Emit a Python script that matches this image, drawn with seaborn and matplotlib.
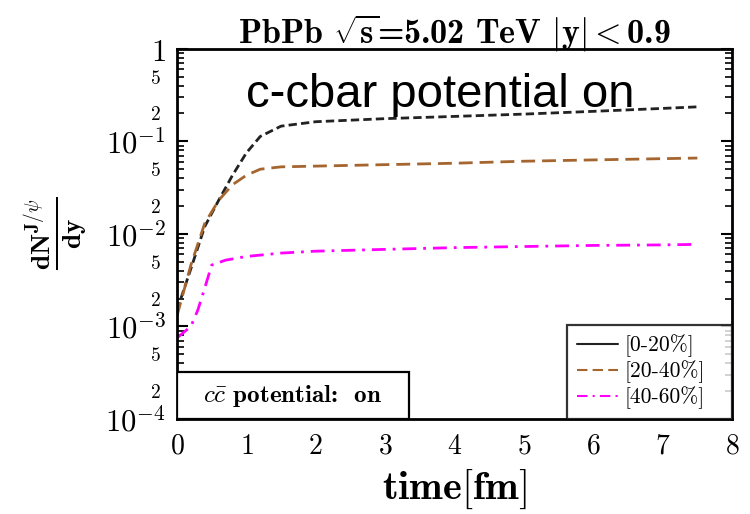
import numpy as np
import pandas as pd
import matplotlib
matplotlib.use("Agg")
import matplotlib.pyplot as plt
import matplotlib.ticker as mticker
from matplotlib.lines import Line2D
from matplotlib.patches import Rectangle
import seaborn as sns

# ---- data ----
t_020 = [0, 0.2, 0.4, 0.6, 0.8, 1.0, 1.2, 1.5, 2.0, 3.0, 4.0, 5.0, 6.0, 7.0, 7.5]
y_020 = [1.5e-3, 4.2e-3, 0.012, 0.023, 0.043, 0.075, 0.113, 0.146, 0.163, 0.176,
         0.186, 0.197, 0.211, 0.227, 0.236]
t_2040 = [0, 0.2, 0.4, 0.6, 0.8, 1.0, 1.2, 1.5, 2.0, 3.0, 4.0, 5.0, 6.0, 7.0, 7.5]
y_2040 = [1.3e-3, 4.6e-3, 0.013, 0.023, 0.034, 0.043, 0.050, 0.053, 0.054, 0.056,
          0.058, 0.061, 0.063, 0.065, 0.066]
t_4060 = [0, 0.2, 0.3, 0.4, 0.5, 0.7, 1.0, 1.5, 2.0, 3.0, 4.0, 5.0, 6.0, 7.0, 7.5]
y_4060 = [7.5e-4, 1.0e-3, 1.5e-3, 2.6e-3, 4.6e-3, 5.2e-3, 5.7e-3, 6.2e-3, 6.5e-3,
          6.8e-3, 7.1e-3, 7.3e-3, 7.5e-3, 7.6e-3, 7.7e-3]
labels = ["[0-20%]", "[20-40%]", "[40-60%]"]
x_ticks = [0, 1, 2, 3, 4, 5, 6, 7, 8]

df = pd.concat([
    pd.DataFrame({"time": t_020, "val": y_020, "cent": labels[0]}),
    pd.DataFrame({"time": t_2040, "val": y_2040, "cent": labels[1]}),
    pd.DataFrame({"time": t_4060, "val": y_4060, "cent": labels[2]}),
])

sns.set_style("white")
plt.rcParams["mathtext.fontset"] = "cm"
plt.rcParams["font.family"] = ["DejaVu Serif"]
plt.rcParams["text.color"] = "black"
plt.rcParams["axes.labelcolor"] = "black"
plt.rcParams["xtick.color"] = "black"
plt.rcParams["ytick.color"] = "black"

colors = {labels[0]: "#222222", labels[1]: "#a5652f", labels[2]: "#ff00ff"}
dashes = {labels[0]: (3, 1.5), labels[1]: (5, 2.5), labels[2]: (5, 2.5, 1, 2.5)}

fig = plt.figure(figsize=(7.5, 5.14), dpi=100)
ax = fig.add_axes([0.236, 0.185, 0.74, 0.72])

sns.lineplot(data=df, x="time", y="val", hue="cent", style="cent",
             palette=colors, dashes=dashes, linewidth=2, ax=ax, legend=False)

ax.set_yscale("log")
ax.set_xlim(0, 8)
ax.set_ylim(1e-4, 1)

ax.set_xticks(x_ticks)
ax.set_xticklabels([f"${v}$" for v in x_ticks], fontsize=20)

def major_fmt(v, pos):
    e = int(round(np.log10(v)))
    if e == 0:
        return "$1$"
    return r"$10^{%d}$" % e

def minor_fmt(v, pos):
    e = np.floor(np.log10(v) + 1e-9)
    m = int(round(v / 10 ** e))
    return f"${m}$" if m in (2, 5) else ""

ax.yaxis.set_major_locator(mticker.LogLocator(base=10, numticks=10))
ax.yaxis.set_minor_locator(mticker.LogLocator(base=10, subs=range(2, 10), numticks=20))
ax.yaxis.set_major_formatter(mticker.FuncFormatter(major_fmt))
ax.yaxis.set_minor_formatter(mticker.FuncFormatter(minor_fmt))
ax.tick_params(axis="y", which="major", labelsize=22, direction="in", length=8,
               width=1.5, left=True, right=True, pad=8)
ax.tick_params(axis="y", which="minor", labelsize=14, direction="in", length=5,
               width=1.2, left=True, right=True, pad=12)
ax.tick_params(axis="x", which="both", direction="in", length=0, pad=10)

for s in ax.spines.values():
    s.set_linewidth(2)
    s.set_color("black")

ax.set_xlabel(r"$\mathbf{time[fm]}$", fontsize=29, labelpad=6)
ax.set_ylabel(r"$\mathbf{\frac{dN^{J/\psi}}{dy}}$", fontsize=28, labelpad=12)
ax.set_title(r"PbPb $\sqrt{\mathbf{s}}$=5.02 TeV $|\mathbf{y}| <$0.9",
             fontsize=24.5, pad=4, family="cmb10")

ax.text(0.474, 0.876, "c-cbar potential on", transform=ax.transAxes,
        fontsize=34, family="Liberation Sans", ha="center", va="center", color="black")

ax.add_patch(Rectangle((0, 0), 0.418, 0.127, transform=ax.transAxes,
                       fc="white", ec="black", lw=1.6, zorder=5))
ax.text(0.209, 0.063, r"$c\bar{c}$ potential:  on",
        transform=ax.transAxes, fontsize=18, ha="center", va="center", zorder=6,
        family="cmb10")

handles = [Line2D([], [], color=colors[labels[0]], lw=1.5),
           Line2D([], [], color=colors[labels[1]], lw=1.5, dashes=(5, 2.5)),
           Line2D([], [], color=colors[labels[2]], lw=1.5, dashes=(5, 2.5, 1, 2.5))]
leg = ax.legend(handles, labels,
                loc="lower left", bbox_to_anchor=(0.703, 0.0, 0.297, 0.25),
                mode="expand", frameon=True, fancybox=False,
                borderaxespad=0, handlelength=1.9, labelspacing=0.15,
                handletextpad=0.3, borderpad=0.45,
                prop={"family": "cmr10", "size": 15.5})
leg.get_frame().set_edgecolor("black")
leg.get_frame().set_linewidth(1.6)

fig.savefig("out.png", dpi=100)
